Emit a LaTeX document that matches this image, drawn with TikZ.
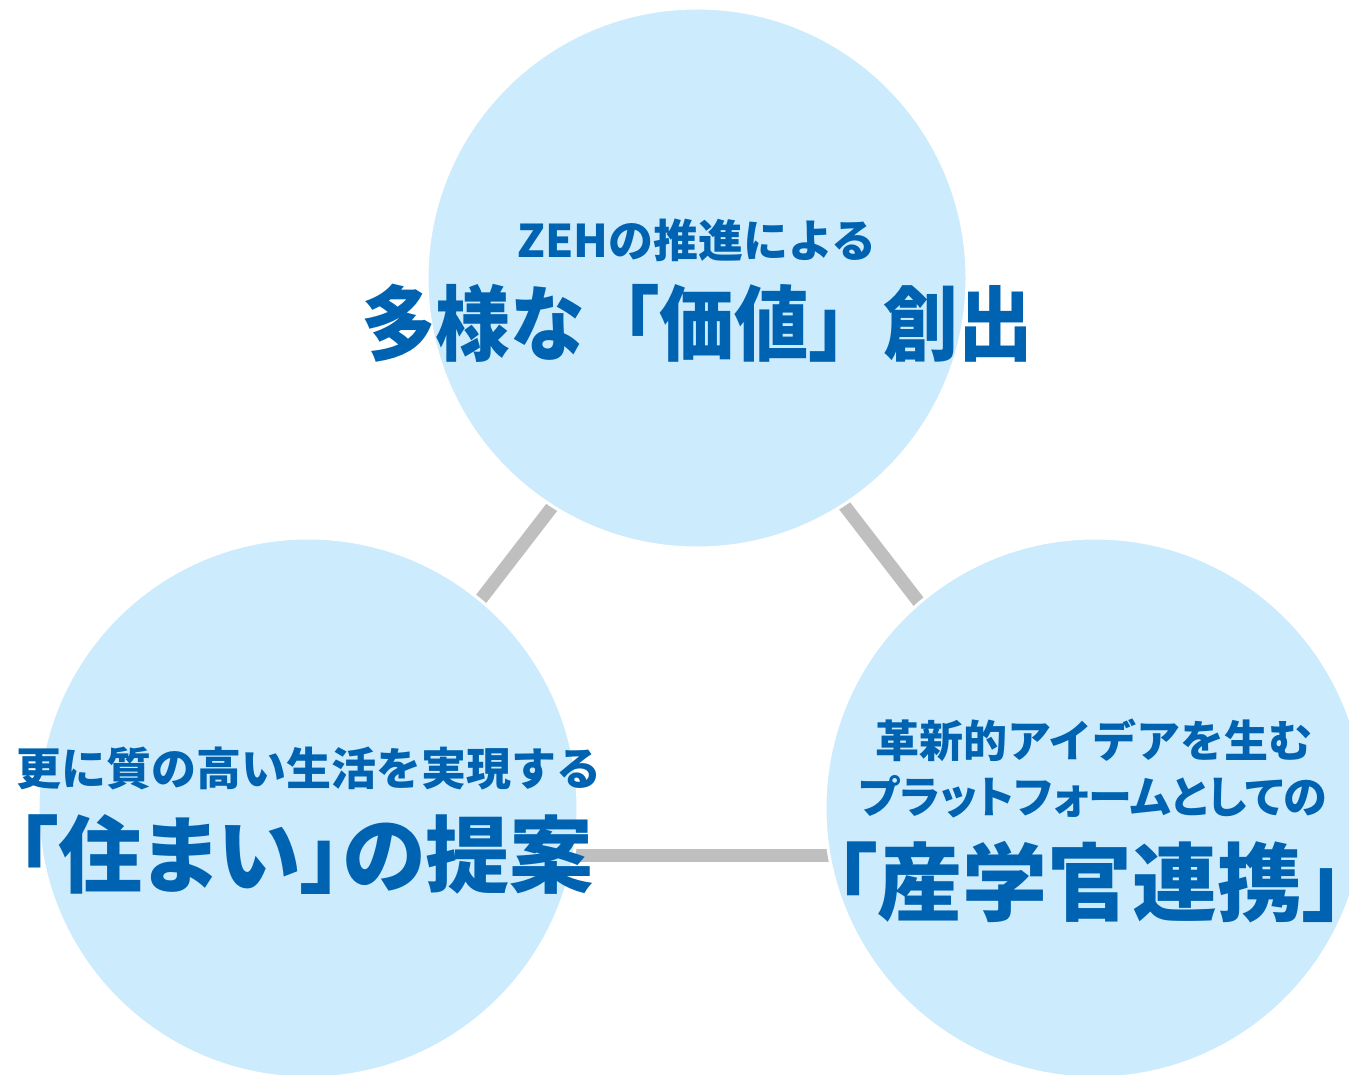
\documentclass[tikz,border=0pt]{standalone}
\usepackage{fontspec}
\newfontfamily\cjk{Noto Sans CJK JP Black}
\newfontfamily\cjkp{Noto Sans CJK JP Black}[RawFeature=+palt]
\definecolor{circfill}{RGB}{204,235,253}
\definecolor{txtblue}{RGB}{0,99,177}
\definecolor{linkgray}{RGB}{191,191,191}
\begin{document}
\begin{tikzpicture}[x=1pt,y=-1pt,
  bubble/.style={circle,fill=circfill,draw=white,line width=3pt,minimum size=540pt,inner sep=0pt},
  link/.style={draw=linkgray,line width=13pt},
  smalltxt/.style={text=txtblue,inner sep=0pt,font=\cjk\fontsize{45}{54}\selectfont},
  smallptxt/.style={text=txtblue,inner sep=0pt,font=\cjkp\fontsize{44}{54}\selectfont},
  bigtxt/.style={text=txtblue,inner sep=0pt,font=\cjk\fontsize{82}{96}\selectfont},
  bigptxt/.style={text=txtblue,inner sep=0pt,font=\cjkp\fontsize{84}{96}\selectfont}]
\useasboundingbox (0,0) rectangle (1349,1075);
% connectors (under the circles)
\coordinate (tl1) at (559,498);
\coordinate (tl2) at (471,612);
\coordinate (tr1) at (837,496);
\coordinate (tr2) at (928,614);
\coordinate (b1) at (560,855);
\coordinate (b2) at (845,855);
\draw[link] (tl1) -- (tl2);
\draw[link] (tr1) -- (tr2);
\draw[link] (b1) -- (b2);
% circles
\node[bubble] (top) at (697,278) {};
\node[bubble] (left) at (308,808) {};
\node[bubble] (right) at (1095,808) {};
% texts
\node[smalltxt] (t1) at (697,240) {ZEHの推進による};
\node[bigtxt,xscale=0.91,transform shape] (t2) at (697,323) {多様な「価値」創出};
\node[smalltxt] (l1) at (309,769) {更に質の高い生活を実現する};
\node[bigptxt] (l2) at (305,854) {「住まい」の提案};
\node[smalltxt,font=\cjk\fontsize{44}{54}\selectfont] (r1) at (1094,740) {革新的アイデアを生む};
\node[smallptxt] (r2) at (1093,797) {プラットフォームとしての};
\node[bigptxt,font=\cjkp\fontsize{85}{96}\selectfont] (r3) at (1090,882) {「産学官連携」};
\end{tikzpicture}
\end{document}
